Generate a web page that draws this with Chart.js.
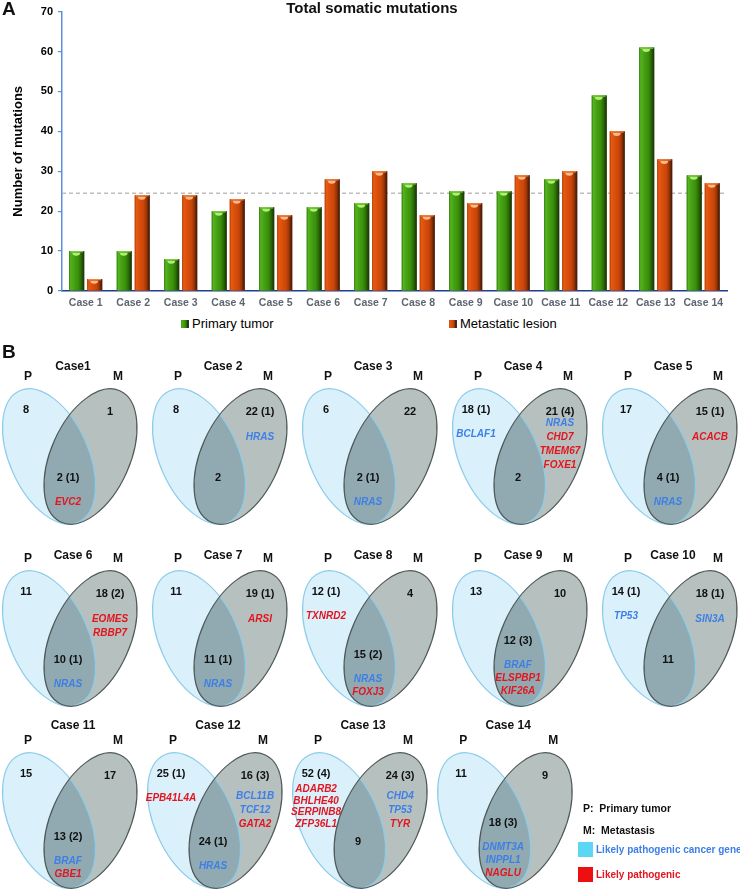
<!DOCTYPE html>
<html><head><meta charset="utf-8">
<script src="https://cdn.jsdelivr.net/npm/chart.js@4.4.1/dist/chart.umd.min.js"></script>
<style>
html,body{margin:0;padding:0;background:#fff;}
#wrap{position:relative;width:740px;height:895px;overflow:hidden;font-family:"Liberation Sans",Arial,sans-serif;}
#cA{position:absolute;left:0;top:0;}
#cB{position:absolute;left:0;top:338px;}
#legA{position:absolute;top:315px;left:0;width:740px;height:17px;font-size:13px;color:#000;}
.li{position:absolute;top:0;height:17px;line-height:17px;white-space:nowrap;}
.mk{display:inline-block;width:8px;height:8px;margin-right:3px;vertical-align:middle;position:relative;top:-1px;box-sizing:border-box;border-right:1px solid #333;}
</style></head>
<body><div id="wrap">
<canvas id="cA" width="740" height="314"></canvas>
<div id="legA"></div>
<canvas id="cB" width="740" height="557"></canvas>
</div>
<script>
// ---------------- DATA ----------------
const cases = ['Case 1','Case 2','Case 3','Case 4','Case 5','Case 6','Case 7','Case 8','Case 9','Case 10','Case 11','Case 12','Case 13','Case 14'];
const seriesNames = ['Primary tumor','Metastatic lesion'];
const primaryTumor = [10,10,8,20,21,21,22,27,25,25,28,49,61,29];
const metastaticLesion = [3,24,24,23,19,28,30,19,22,29,30,40,33,27];
const meanMutations = 24.5;
const yTicks = [0,10,20,30,40,50,60,70];
const chartTitle = 'Total somatic mutations';
const yTitle = 'Number of mutations';

const vennTitles = ['Case1','Case 2','Case 3','Case 4','Case 5','Case 6','Case 7','Case 8','Case 9','Case 10','Case 11','Case 12','Case 13','Case 14'];
const pOnlyN  = [8,8,6,18,17,11,11,12,13,14,15,25,52,11];
const pOnlyK  = [0,0,0,1,0,0,0,1,0,1,0,1,4,0];
const sharedN = [2,2,2,2,4,10,11,15,12,11,13,24,9,18];
const sharedK = [1,0,1,0,1,1,1,2,3,0,2,1,0,3];
const mOnlyN  = [1,22,22,21,15,18,19,4,10,18,17,16,24,9];
const mOnlyK  = [0,1,0,4,1,2,1,0,0,1,0,3,3,0];
// likely pathogenic cancer genes (blue) and likely pathogenic (red)
const pCancer = [[],[],[],['BCLAF1'],[],[],[],[],[],['TP53'],[],[],[],[]];
const pPatho  = [[],[],[],[],[],[],[],['TXNRD2'],[],[],[],['EPB41L4A'],['ADARB2','BHLHE40','SERPINB8','ZFP36L1'],[]];
const sCancer = [[],[],['NRAS'],[],['NRAS'],['NRAS'],['NRAS'],['NRAS'],['BRAF'],[],['BRAF'],['HRAS'],[],['DNMT3A','INPPL1']];
const sPatho  = [['EVC2'],[],[],[],[],[],[],['FOXJ3'],['ELSPBP1','KIF26A'],[],['GBE1'],[],[],['NAGLU']];
const mCancer = [[],['HRAS'],[],['NRAS'],[],[],[],[],[],['SIN3A'],[],['BCL11B','TCF12'],['CHD4','TP53'],[]];
const mPatho  = [[],[],[],['CHD7','TMEM67','FOXE1'],['ACACB'],['EOMES','RBBP7'],['ARSI'],[],[],[],[],['GATA2'],['TYR'],[]];
const legendB = ['P:  Primary tumor','M:  Metastasis','Likely pathogenic cancer gene','Likely pathogenic'];

// ---------------- STYLE ----------------
const FONT = '"Liberation Sans", Arial, Helvetica, sans-serif';
Chart.defaults.font.family = FONT;
const baseColors = ['#3f9a0e','#d44a0a'];
const barStops = [
  [[0,'#2c7409'],[0.1,'#56b41f'],[0.3,'#46a313'],[0.6,'#3a8f0c'],[0.78,'#2c6c07'],[0.92,'#1c4504'],[1,'#2b2b22']],
  [[0,'#a83805'],[0.1,'#e65b12'],[0.3,'#dc500c'],[0.6,'#c9460a'],[0.78,'#9e3606'],[0.92,'#5c2003'],[1,'#2b2322']]
];
const capColors = ['#aef071','#fcb985'];
const rimColors = ['#86d24a','#f08a4a'];
const BLUE = '#3d7fe6', RED = '#e3151f';

// ---------------- CHART A ----------------
const barLook = {
  id:'barLook',
  beforeDatasetsDraw(chart){
    const {ctx, chartArea:a, scales:{y}} = chart;
    const py = y.getPixelForValue(meanMutations);
    ctx.save();
    ctx.strokeStyle = '#bdbdbd'; ctx.lineWidth = 1.5; ctx.setLineDash([4,3]);
    ctx.beginPath(); ctx.moveTo(a.left, py); ctx.lineTo(a.right, py); ctx.stroke();
    ctx.restore();
  },
  afterDatasetsDraw(chart){
    const ctx = chart.ctx;
    chart.data.datasets.forEach((ds, di) => {
      const meta = chart.getDatasetMeta(di);
      meta.data.forEach(bar => {
        const {x, y, base, width} = bar.getProps(['x','y','base','width'], true);
        const l = x - width/2, r = x + width/2;
        ctx.save();
        const g = ctx.createLinearGradient(l, 0, r, 0);
        barStops[di].forEach(([o,c]) => g.addColorStop(o,c));
        ctx.fillStyle = g;
        ctx.fillRect(l, y, width, base - y);
        ctx.fillStyle = rimColors[di];
        ctx.fillRect(l+1, y, width-2, 1.2);
        ctx.fillStyle = capColors[di];
        ctx.beginPath();
        ctx.ellipse(x - 0.5, y + 1.6, width*0.26, 3, 0, 0, Math.PI);
        ctx.fill();
        ctx.restore();
      });
    });
  },
  afterDraw(chart){
    const ctx = chart.ctx;
    ctx.save();
    ctx.fillStyle = '#111';
    ctx.textBaseline = 'middle';
    ctx.font = 'bold 15px ' + FONT;
    ctx.textAlign = 'center';
    ctx.fillText(chartTitle, 372, 9);
    ctx.font = 'bold 19px ' + FONT;
    ctx.textAlign = 'left';
    ctx.fillText('A', 2, 10);
    ctx.restore();
  }
};

const chartA = new Chart(document.getElementById('cA'), {
  type:'bar',
  data:{
    labels: cases,
    datasets:[
      {label: seriesNames[0], data: primaryTumor, backgroundColor: baseColors[0], categoryPercentage:0.758, barPercentage:0.833},
      {label: seriesNames[1], data: metastaticLesion, backgroundColor: baseColors[1], categoryPercentage:0.758, barPercentage:0.833}
    ]
  },
  options:{
    responsive:false, animation:false, devicePixelRatio:1,
    layout:{padding:{top:9,right:13,left:0,bottom:0}},
    plugins:{legend:{display:false}, tooltip:{enabled:false}},
    scales:{
      x:{
        z:1,
        grid:{display:false, drawTicks:false},
        border:{display:true, color:'#1e3f8e', width:1.6},
        ticks:{color:'#5d6670', font:{size:10.5, weight:'bold'}, padding:6, maxRotation:0, autoSkip:false},
        afterFit(s){ s.height = 23; }
      },
      y:{
        min:0, max:70,
        afterBuildTicks(s){ s.ticks = yTicks.map(v => ({value:v})); },
        ticks:{color:'#000', font:{size:11, weight:'bold'}, padding:5},
        grid:{drawOnChartArea:false, drawTicks:true, tickLength:4, color:'#5b8fd6', lineWidth:1.2},
        border:{color:'#5b8fd6', width:1.5},
        title:{display:true, text:yTitle, font:{size:13, weight:'bold'}, color:'#000', padding:{top:11,bottom:0}},
        afterFit(s){ s.width = 62; }
      }
    }
  },
  plugins:[barLook]
});

// HTML legend for chart A
(function(){
  const leg = document.getElementById('legA');
  const lefts = [181, 449];
  chartA.data.datasets.forEach((ds, i) => {
    const d = document.createElement('div');
    d.className = 'li';
    d.style.left = lefts[i] + 'px';
    const stops = barStops[i].map(([o,c]) => c + ' ' + Math.round(o*100) + '%').join(',');
    d.innerHTML = '<span class="mk" style="background:linear-gradient(90deg,' + stops + ')"></span>' + ds.label;
    leg.appendChild(d);
  });
})();

// ---------------- CHART B (Venn diagrams) ----------------
const vennPoints = cases.map((_, i) => {
  const row = Math.floor(i/5), col = i % 5;
  return {x: row === 2 ? col * 0.967 : col, y: row};
});

const titleDy = [-90, -83, -95];
function countLabel(n, k){ return k ? n + ' (' + k + ')' : String(n); }

const vennDraw = {
  id:'vennDraw',
  afterDatasetsDraw(chart){
    const ctx = chart.ctx;
    const meta = chart.getDatasetMeta(0);
    ctx.save();
    ctx.textBaseline = 'middle';
    ctx.fillStyle = '#111';
    ctx.font = 'bold 19px ' + FONT;
    ctx.textAlign = 'left';
    ctx.fillText('B', 2, 15);
    ctx.textAlign = 'center';
    const rot = 24 * Math.PI / 180;
    meta.data.forEach((pt, i) => {
      const cx = pt.x, cy = pt.y;
      const row = Math.floor(i/5);
      const pPath = new Path2D();
      pPath.ellipse(cx - 21, cy, 39.5, 72, -rot, 0, Math.PI*2);
      const mPath = new Path2D();
      mPath.ellipse(cx + 20.5, cy, 39.5, 72, rot, 0, Math.PI*2);
      ctx.fillStyle = '#daf1fb'; ctx.fill(pPath);
      ctx.fillStyle = '#b6c1bf'; ctx.fill(mPath);
      ctx.save(); ctx.clip(pPath); ctx.fillStyle = '#91aab1'; ctx.fill(mPath); ctx.restore();
      ctx.lineWidth = 1.2;
      ctx.strokeStyle = '#8ccbe9'; ctx.stroke(pPath);
      ctx.strokeStyle = '#4f5858'; ctx.stroke(mPath);

      ctx.fillStyle = '#111';
      ctx.font = 'bold 12px ' + FONT;
      ctx.fillText(vennTitles[i], cx + 3, cy + titleDy[row]);
      ctx.fillText('P', cx - 42, cy - 80);
      ctx.fillText('M', cx + 48, cy - 80);

      const drawGenes = (list, x, y0, step) => {
        ctx.font = 'italic bold 10px ' + FONT;
        list.forEach((g, j) => {
          ctx.fillStyle = g[1] ? RED : BLUE;
          ctx.fillText(g[0], x, y0 + j*step);
        });
      };
      // P only
      ctx.font = 'bold 11px ' + FONT; ctx.fillStyle = '#111';
      const pY = cy - 47, px = cx - 44;
      ctx.fillText(countLabel(pOnlyN[i], pOnlyK[i]), px, pY);
      const pg = pCancer[i].map(g => [g,0]).concat(pPatho[i].map(g => [g,1]));
      drawGenes(pg, px, pg.length > 2 ? pY + 16 : pY + 25, pg.length > 2 ? 11.5 : 13.5);
      // M only
      ctx.font = 'bold 11px ' + FONT; ctx.fillStyle = '#111';
      const mY = cy - 45, mx = cx + 40;
      ctx.fillText(countLabel(mOnlyN[i], mOnlyK[i]), mx, mY);
      const mg = mCancer[i].map(g => [g,0]).concat(mPatho[i].map(g => [g,1]));
      const mFirst = mg.length >= 4 ? cy - 33 : (mg.length === 3 ? cy - 24 : cy - 19);
      drawGenes(mg, mx, mFirst, 14);
      // shared
      const sg = sCancer[i].map(g => [g,0]).concat(sPatho[i].map(g => [g,1]));
      const sY = cy + [21,21,16,2][Math.min(sg.length,3)];
      const sx = cx - 2;
      ctx.font = 'bold 11px ' + FONT; ctx.fillStyle = '#111';
      ctx.fillText(countLabel(sharedN[i], sharedK[i]), sx, sY);
      drawGenes(sg, sx, sY + 25, 13);
    });

    // legend of panel B
    ctx.textAlign = 'left';
    ctx.fillStyle = '#111';
    ctx.font = 'bold 10.5px ' + FONT;
    ctx.fillText(legendB[0], 583, 471);
    ctx.fillText(legendB[1], 583, 493);
    ctx.fillStyle = '#5bd6f3'; ctx.fillRect(578, 504, 15, 15);
    ctx.fillStyle = '#ee1010'; ctx.fillRect(578, 529, 15, 15);
    ctx.font = 'bold 10px ' + FONT;
    ctx.fillStyle = BLUE; ctx.fillText(legendB[2], 596, 512);
    ctx.fillStyle = RED; ctx.fillText(legendB[3], 596, 537);
    ctx.restore();
  }
};

new Chart(document.getElementById('cB'), {
  type:'scatter',
  data:{datasets:[{label:'cases', data: vennPoints, pointRadius:0, pointHoverRadius:0, pointBorderWidth:0}]},
  options:{
    responsive:false, animation:false, devicePixelRatio:1,
    layout:{padding:0, autoPadding:false},
    plugins:{legend:{display:false}, tooltip:{enabled:false}},
    events:[],
    scales:{
      x:{type:'linear', display:false, min:-70/150, max:670/150},
      y:{type:'linear', display:false, reverse:true, min:-118.5/182, max:(557-118.5)/182}
    }
  },
  plugins:[vennDraw]
});
</script>
</body></html>
